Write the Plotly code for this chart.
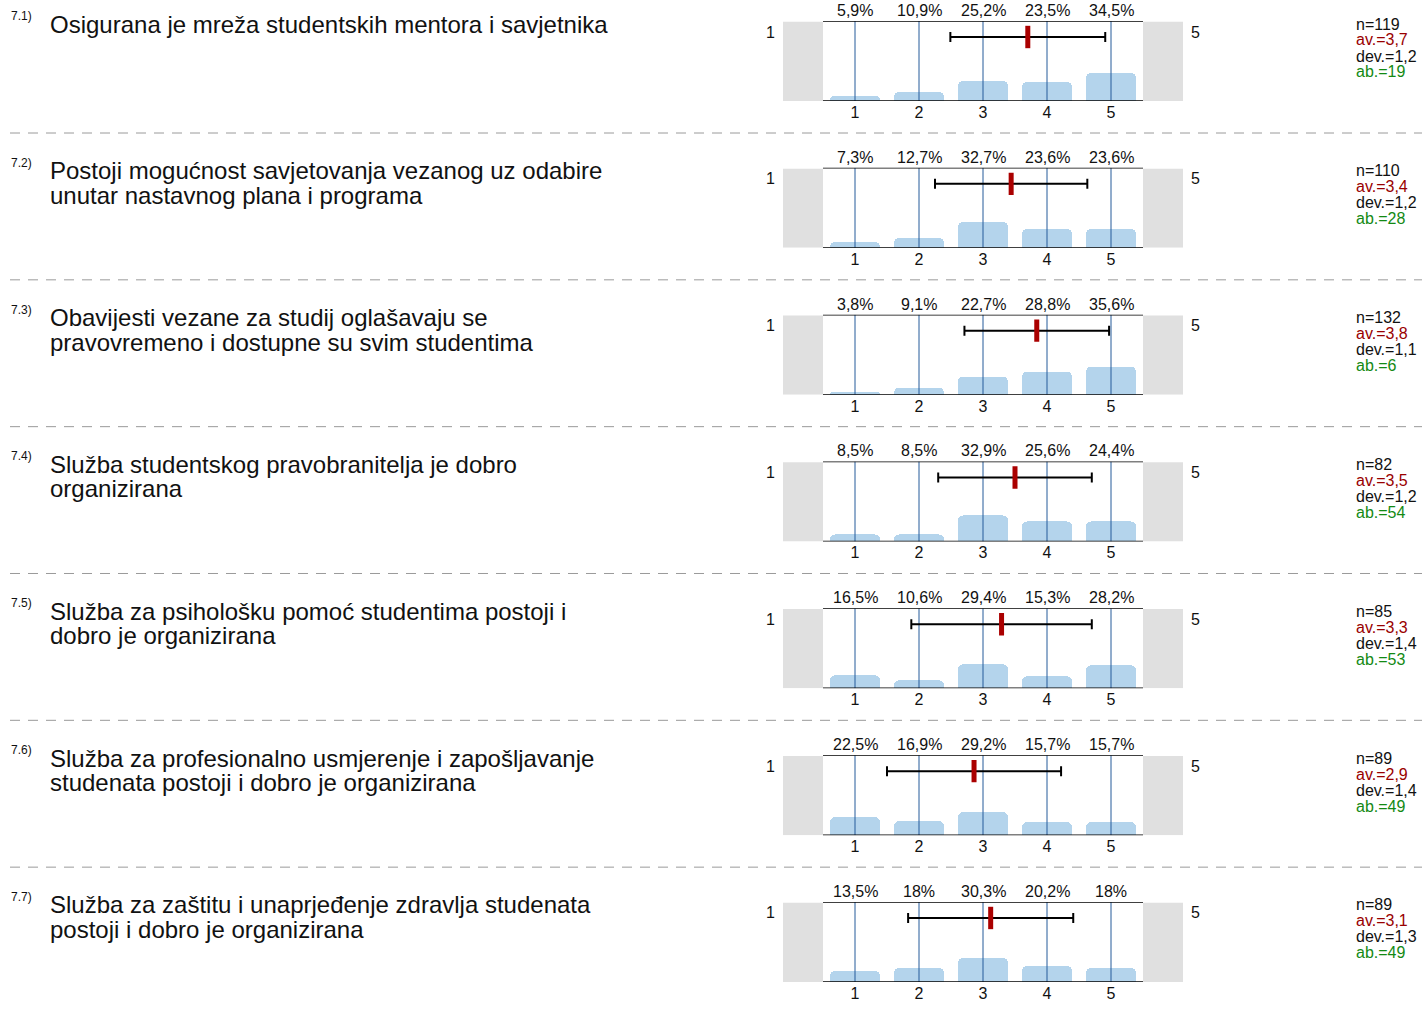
import plotly.graph_objects as go

W, H = 1422, 1009

numbers = ["7.1)", "7.2)", "7.3)", "7.4)", "7.5)", "7.6)", "7.7)"]
questions = [
    "Osigurana je mreža studentskih mentora i savjetnika",
    "Postoji mogućnost savjetovanja vezanog uz odabire\nunutar nastavnog plana i programa",
    "Obavijesti vezane za studij oglašavaju se\npravovremeno i dostupne su svim studentima",
    "Služba studentskog pravobranitelja je dobro\norganizirana",
    "Služba za psihološku pomoć studentima postoji i\ndobro je organizirana",
    "Služba za profesionalno usmjerenje i zapošljavanje\nstudenata postoji i dobro je organizirana",
    "Služba za zaštitu i unaprjeđenje zdravlja studenata\npostoji i dobro je organizirana",
]
scale = [1, 2, 3, 4, 5]
percents = [
    [5.9, 10.9, 25.2, 23.5, 34.5],
    [7.3, 12.7, 32.7, 23.6, 23.6],
    [3.8, 9.1, 22.7, 28.8, 35.6],
    [8.5, 8.5, 32.9, 25.6, 24.4],
    [16.5, 10.6, 29.4, 15.3, 28.2],
    [22.5, 16.9, 29.2, 15.7, 15.7],
    [13.5, 18.0, 30.3, 20.2, 18.0],
]
means = [3.70, 3.44, 3.84, 3.50, 3.29, 2.86, 3.12]
devs = [1.21, 1.19, 1.13, 1.20, 1.41, 1.36, 1.29]
n_vals = [119, 110, 132, 82, 85, 89, 89]
av_txt = ["3,7", "3,4", "3,8", "3,5", "3,3", "2,9", "3,1"]
dev_txt = ["1,2", "1,2", "1,1", "1,2", "1,4", "1,4", "1,3"]
ab_vals = [19, 28, 6, 54, 53, 49, 49]

FONT = "Liberation Sans, Arial, sans-serif"
BAR = "#b4d4ec"
VLINE = "#245a9a"
RED = "#aa0000"

def px_x(x):
    return x / W

def px_y(y):
    return 1 - y / H

def fmt_pct(v):
    if float(v).is_integer():
        return f"{int(v)}%"
    return f"{v:.1f}".replace(".", ",") + "%"

fig = go.Figure()
shapes = []
annotations = []
row_top0, row_step, plot_h = 21, 146.83, 80

for i in range(7):
    k = "" if i == 0 else str(i + 1)
    xa, ya = "x" + k, "y" + k
    top = row_top0 + row_step * i

    fig.add_trace(go.Bar(
        x=scale, y=percents[i], xaxis=xa, yaxis=ya, width=0.78,
        marker=dict(color=BAR, line=dict(width=0), cornerradius=5),
        hoverinfo="skip", showlegend=False,
    ))
    vx, vy = [], []
    for s in scale:
        vx += [s, s, None]
        vy += [0, 100, None]
    fig.add_trace(go.Scatter(
        x=vx, y=vy, xaxis=xa, yaxis=ya, mode="lines",
        line=dict(color=VLINE, width=1), hoverinfo="skip", showlegend=False,
    ))
    fig.add_trace(go.Scatter(
        x=[means[i]], y=[80], xaxis=xa, yaxis=ya, mode="markers",
        marker=dict(size=1, color="rgba(0,0,0,0)"),
        error_x=dict(type="data", array=[devs[i]], color="black", thickness=2, width=5),
        hoverinfo="skip", showlegend=False,
    ))
    fig.add_trace(go.Scatter(
        x=[means[i], means[i]], y=[66, 94], xaxis=xa, yaxis=ya, mode="lines",
        line=dict(color=RED, width=5), hoverinfo="skip", showlegend=False,
    ))

    fig.update_layout(**{
        "xaxis" + k: dict(
            domain=[px_x(783), px_x(1183)], range=[-0.125, 6.125], anchor=ya,
            tickvals=scale, ticktext=[str(s) for s in scale], ticks="",
            showgrid=False, zeroline=False, showline=False, fixedrange=True,
            tickfont=dict(size=16, color="#111", family=FONT),
        ),
        "yaxis" + k: dict(
            domain=[px_y(top + plot_h), px_y(top)], range=[0, 100], anchor=xa,
            showticklabels=False, ticks="", showgrid=False, zeroline=False,
            showline=False, fixedrange=True,
        ),
    })

    # gray end boxes and frame lines
    for x0, x1 in [(-0.125, 0.5), (5.5, 6.125)]:
        shapes.append(dict(type="rect", xref=xa, yref=ya, x0=x0, x1=x1, y0=0, y1=99,
                           fillcolor="#e0e0e0", line=dict(width=0), layer="below"))
    for yy in [0, 100]:
        shapes.append(dict(type="line", xref=xa, yref=ya, x0=0.5, x1=5.5, y0=yy, y1=yy,
                           line=dict(color="black", width=1.5), layer="above"))

    for s, p in zip(scale, percents[i]):
        annotations.append(dict(xref=xa, yref=ya, x=s, y=100, text=fmt_pct(p),
                                showarrow=False, yanchor="bottom", yshift=0,
                                font=dict(size=16, color="#111", family=FONT)))
    annotations.append(dict(xref="paper", yref="paper", x=px_x(770), y=px_y(top + 11),
                            text="1", showarrow=False, xanchor="center", yanchor="middle",
                            font=dict(size=16, color="#111", family=FONT)))
    annotations.append(dict(xref="paper", yref="paper", x=px_x(1195), y=px_y(top + 11),
                            text="5", showarrow=False, xanchor="center", yanchor="middle",
                            font=dict(size=16, color="#111", family=FONT)))

    # question text
    annotations.append(dict(xref="paper", yref="paper", x=px_x(9), y=px_y(top - 5),
                            text=numbers[i], showarrow=False, xanchor="left", yanchor="middle",
                            font=dict(size=12, color="#111", family=FONT)))
    for j, line in enumerate(questions[i].split("\n")):
        annotations.append(dict(xref="paper", yref="paper", x=px_x(48), y=px_y(top + 3 + 24.5 * j),
                                text=line, showarrow=False, xanchor="left", yanchor="middle",
                                font=dict(size=24, color="#111", family=FONT)))

    # statistics
    stats = [(f"n={n_vals[i]}", "#111"), (f"av.={av_txt[i]}", "#990000"),
             (f"dev.={dev_txt[i]}", "#111"), (f"ab.={ab_vals[i]}", "#138a13")]
    for j, (txt, col) in enumerate(stats):
        annotations.append(dict(xref="paper", yref="paper", x=px_x(1354), y=px_y(top + 3 + 16 * j),
                                text=txt, showarrow=False, xanchor="left", yanchor="middle",
                                font=dict(size=16, color=col, family=FONT)))

    if i < 6:
        yy = px_y(top + 112)
        shapes.append(dict(type="line", xref="paper", yref="paper", x0=px_x(10), x1=1,
                           y0=yy, y1=yy, line=dict(color="#9a9a9a", width=1, dash="10px,8px")))

fig.update_layout(
    width=W, height=H, margin=dict(l=0, r=0, t=0, b=0),
    paper_bgcolor="white", plot_bgcolor="white",
    shapes=shapes, annotations=annotations, bargap=0,
    font=dict(family=FONT, color="#111"),
)

fig.write_html("out.html", config={"displayModeBar": False},
               post_script="document.body.style.margin='0';")
